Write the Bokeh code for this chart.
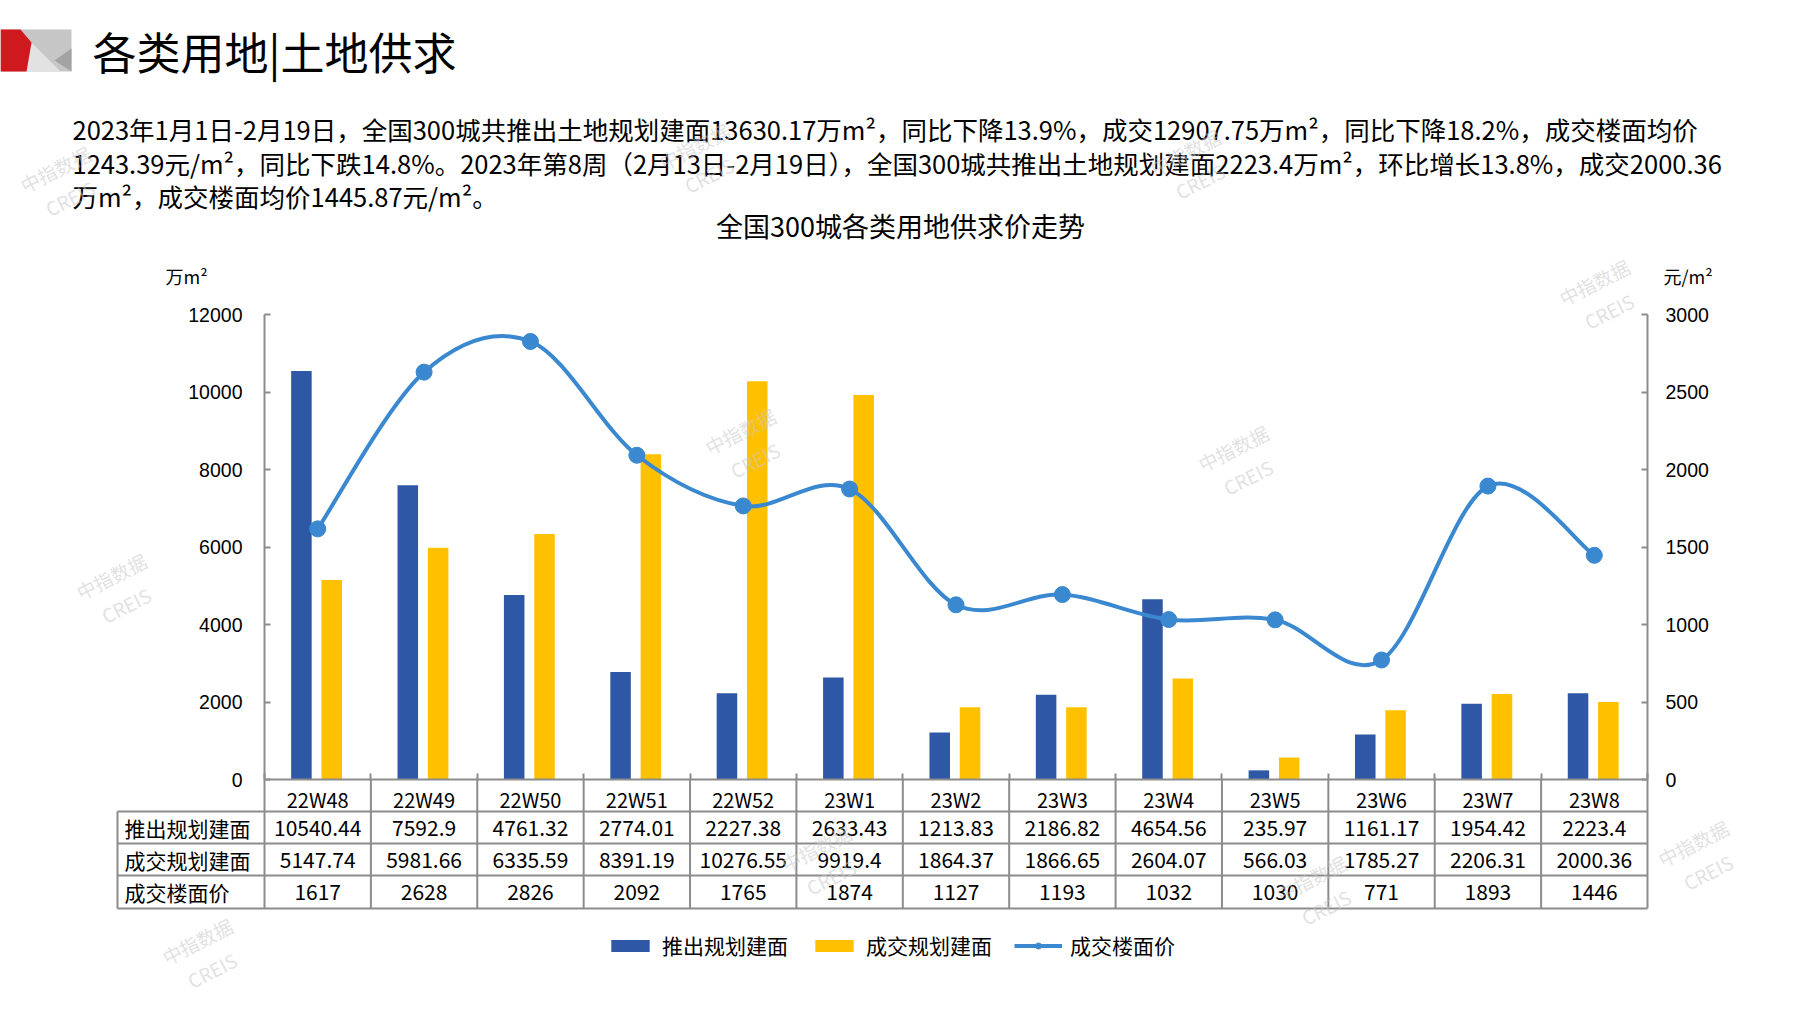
from bokeh.plotting import figure
from bokeh.models import Range1d, LinearAxis, FixedTicker, Legend, LegendItem, ColumnDataSource
from bokeh.transform import dodge
from bokeh.core.properties import value
from bokeh.embed import file_html
from bokeh.resources import INLINE

# ---------------- data ----------------
categories = ["22W48", "22W49", "22W50", "22W51", "22W52", "23W1", "23W2",
              "23W3", "23W4", "23W5", "23W6", "23W7", "23W8"]
supply = [10540.44, 7592.9, 4761.32, 2774.01, 2227.38, 2633.43, 1213.83,
          2186.82, 4654.56, 235.97, 1161.17, 1954.42, 2223.4]
deal = [5147.74, 5981.66, 6335.59, 8391.19, 10276.55, 9919.4, 1864.37,
        1866.65, 2604.07, 566.03, 1785.27, 2206.31, 2000.36]
price = [1617, 2628, 2826, 2092, 1765, 1874, 1127, 1193, 1032, 1030, 771, 1893, 1446]

series_names = ["推出规划建面", "成交规划建面", "成交楼面价"]
left_ticks = [0, 2000, 4000, 6000, 8000, 10000, 12000]
right_ticks = [0, 500, 1000, 1500, 2000, 2500, 3000]

page_title = "各类用地|土地供求"
para_lines = [
    "2023年1月1日-2月19日，全国300城共推出土地规划建面13630.17万m²，同比下降13.9%，成交12907.75万m²，同比下降18.2%，成交楼面均价",
    "1243.39元/m²，同比下跌14.8%。2023年第8周（2月13日-2月19日），全国300城共推出土地规划建面2223.4万m²，环比增长13.8%，成交2000.36",
    "万m²，成交楼面均价1445.87元/m²。",
]
chart_title = "全国300城各类用地供求价走势"
left_unit = "万m²"
right_unit = "元/m²"
watermark = "中指数据\nCREIS"

# ---------------- layout (page pixels) ----------------
W, H = 1790, 1002
OX, OY = 0, 0
AX_L, AX_R = 264, 1647
Y0, Y_TOP = 779, 314
TB = 908
ROW_LINES = [811, 843, 875, 908]
ROW_CENTERS = [827, 859, 891]
TL = 117
n = len(categories)
ux = (AX_R - AX_L) / n

def xd(px):
    return (px - AX_L) / ux

def yl(py):
    return (Y0 - py) * left_ticks[-1] / (Y0 - Y_TOP)

def yr(py):
    return (Y0 - py) * right_ticks[-1] / (Y0 - Y_TOP)

CJK = "Noto Sans CJK SC"
NUMF = "Liberation Sans"
GRAY = "#8c8c8c"
BLUE = "#2E58A6"
YELLOW = "#FFC000"
LINEC = "#3A88D0"

p = figure(width=W, height=H, min_border=0, x_axis_type=None, y_axis_type=None,
           x_range=Range1d(xd(OX), xd(OX + W)), y_range=Range1d(yl(OY + H), yl(OY)),
           toolbar_location=None, output_backend="svg", outline_line_color=None,
           background_fill_color="white", border_fill_color="white")
p.extra_x_ranges = {"px": Range1d(OX, OX + W)}
p.extra_y_ranges = {"py": Range1d(OY + H, OY), "price": Range1d(yr(OY + H), yr(OY))}
p.grid.visible = False

# ---------------- header decoration ----------------
p.patch(x=[0, 71, 71, 0], y=[29, 29, 71, 71], x_range_name="px", y_range_name="py",
        fill_color="#c6c6c6", line_color=None)
p.patch(x=[31, 60, 26], y=[42, 71, 71], x_range_name="px", y_range_name="py",
        fill_color="#e2e2e2", line_color=None)
p.patch(x=[71, 54, 71], y=[48, 60, 71], x_range_name="px", y_range_name="py",
        fill_color="#a3a3a3", line_color=None)
p.patch(x=[0, 20, 31, 26, 0], y=[29, 29, 42, 71, 71], x_range_name="px", y_range_name="py",
        fill_color="#D0191E", line_color=None)

p.text(x=[92], y=[50], text=[page_title], x_range_name="px", y_range_name="py",
       text_font=value(CJK), text_font_size="44px", text_color="black",
       text_baseline="middle", text_align="left")
p.text(x=[72, 72, 72], y=[128, 162, 195], text=para_lines, x_range_name="px", y_range_name="py",
       text_font=value(CJK), text_font_size="25.5px", text_color="black",
       text_baseline="middle", text_align="left")
p.text(x=[900], y=[225], text=[chart_title], x_range_name="px", y_range_name="py",
       text_font=value(CJK), text_font_size="27px", text_color="black",
       text_baseline="middle", text_align="center")
p.text(x=[165], y=[275], text=[left_unit], x_range_name="px", y_range_name="py",
       text_font=value(CJK), text_font_size="18px", text_color="black",
       text_baseline="middle", text_align="left")
p.text(x=[1663], y=[275], text=[right_unit], x_range_name="px", y_range_name="py",
       text_font=value(CJK), text_font_size="18px", text_color="black",
       text_baseline="middle", text_align="left")

# ---------------- bars ----------------
src = ColumnDataSource(dict(x=[i + 0.5 for i in range(n)], supply=supply, deal=deal, price=price))
r_sup = p.vbar(x=dodge("x", -0.153), top="supply", bottom=0, width=0.193, source=src,
               fill_color=BLUE, line_color=None)
r_deal = p.vbar(x=dodge("x", 0.132), top="deal", bottom=0, width=0.193, source=src,
                fill_color=YELLOW, line_color=None)

# ---------------- smoothed price line (bezier segments through data) ----------------
pts = [(i + 0.5, v) for i, v in enumerate(price)]

def pt(i):
    return pts[max(0, min(n - 1, i))]

bz = dict(x0=[], y0=[], x1=[], y1=[], cx0=[], cy0=[], cx1=[], cy1=[])
for i in range(n - 1):
    a, b, c, d = pt(i - 1), pt(i), pt(i + 1), pt(i + 2)
    bz["x0"].append(b[0]); bz["y0"].append(b[1])
    bz["x1"].append(c[0]); bz["y1"].append(c[1])
    bz["cx0"].append(b[0] + (c[0] - a[0]) / 6); bz["cy0"].append(b[1] + (c[1] - a[1]) / 6)
    bz["cx1"].append(c[0] - (d[0] - b[0]) / 6); bz["cy1"].append(c[1] - (d[1] - b[1]) / 6)
r_line = p.bezier(source=ColumnDataSource(bz), x0="x0", y0="y0", x1="x1", y1="y1",
                  cx0="cx0", cy0="cy0", cx1="cx1", cy1="cy1", y_range_name="price",
                  line_color=LINEC, line_width=4)
r_dot = p.scatter(x="x", y="price", source=src, y_range_name="price", size=16,
                  fill_color=LINEC, line_color=LINEC)

# ---------------- axes ----------------
yax = LinearAxis(fixed_location=0, bounds=(yl(TB), left_ticks[-1]),
                 ticker=FixedTicker(ticks=left_ticks, minor_ticks=[]),
                 major_tick_in=6, major_tick_out=0, minor_tick_in=0, minor_tick_out=0,
                 axis_line_color=GRAY, axis_line_width=2, major_tick_line_color=GRAY,
                 major_tick_line_width=2, major_label_standoff=22,
                 major_label_text_font=NUMF, major_label_text_font_size="19.5px",
                 major_label_text_color="black")
p.add_layout(yax, "left")

rax = LinearAxis(y_range_name="price", fixed_location=n, bounds=(yr(TB), right_ticks[-1]),
                 ticker=FixedTicker(ticks=right_ticks, minor_ticks=[]),
                 major_tick_in=6, major_tick_out=0, minor_tick_in=0, minor_tick_out=0,
                 axis_line_color=GRAY, axis_line_width=2, major_tick_line_color=GRAY,
                 major_tick_line_width=2, major_label_standoff=18,
                 major_label_text_font=NUMF, major_label_text_font_size="19.5px",
                 major_label_text_color="black")
p.add_layout(rax, "right")

xax = LinearAxis(fixed_location=0, bounds=(0, n),
                 ticker=FixedTicker(ticks=[i + 0.5 for i in range(n)], minor_ticks=list(range(n + 1))),
                 major_label_overrides={i + 0.5: c for i, c in enumerate(categories)},
                 major_tick_in=0, major_tick_out=0, minor_tick_in=6, minor_tick_out=0,
                 axis_line_color=GRAY, axis_line_width=2, minor_tick_line_color=GRAY,
                 minor_tick_line_width=2, major_label_standoff=5,
                 major_label_text_font=CJK, major_label_text_font_size="20px",
                 major_label_text_color="black")
p.add_layout(xax, "below")

# ---------------- data table ----------------
p.segment(x0=[TL] * len(ROW_LINES), x1=[AX_R] * len(ROW_LINES), y0=ROW_LINES, y1=ROW_LINES,
          x_range_name="px", y_range_name="py", line_color=GRAY, line_width=2)
p.segment(x0=[TL], x1=[TL], y0=[ROW_LINES[0]], y1=[TB], x_range_name="px", y_range_name="py",
          line_color=GRAY, line_width=2)
seps = list(range(1, n))
p.segment(x0=seps, x1=seps, y0=[Y0] * len(seps), y1=[TB] * len(seps), y_range_name="py",
          line_color=GRAY, line_width=2)
p.text(x=[124] * 3, y=ROW_CENTERS, text=series_names, x_range_name="px", y_range_name="py",
       text_font=value(CJK), text_font_size="21px", text_color="black",
       text_baseline="middle", text_align="left")
for row, vals in enumerate([supply, deal, price]):
    p.text(x=[i + 0.5 for i in range(n)], y=[ROW_CENTERS[row]] * n, text=[str(v) for v in vals],
           y_range_name="py", text_font=value(CJK), text_font_size="21px", text_color="black",
           text_baseline="middle", text_align="center")

# ---------------- watermarks ----------------
wm_x = [62, 701, 1192, 1601, 747, 1240, 118, 823, 1318, 1700, 204]
wm_y = [183, 160, 166, 296, 445, 462, 590, 862, 892, 857, 955]
p.text(x=wm_x, y=wm_y, text=[watermark] * len(wm_x), x_range_name="px", y_range_name="py",
       text_font=value(CJK), text_font_size="19px", text_color="#c8c8c8", text_alpha=0.55,
       angle=0.47, text_align="center", text_baseline="middle")

# ---------------- legend ----------------
legend = Legend(items=[LegendItem(label=series_names[0], renderers=[r_sup]),
                       LegendItem(label=series_names[1], renderers=[r_deal]),
                       LegendItem(label=series_names[2], renderers=[r_line, r_dot])],
                orientation="horizontal", location=(606, H - 960), glyph_width=48, glyph_height=15,
                label_standoff=8, spacing=22, padding=0, margin=0, border_line_color=None,
                background_fill_alpha=0, label_text_font=CJK, label_text_font_size="21px",
                label_text_color="black")
p.add_layout(legend)

open("out.html", "w").write(file_html(p, INLINE))
